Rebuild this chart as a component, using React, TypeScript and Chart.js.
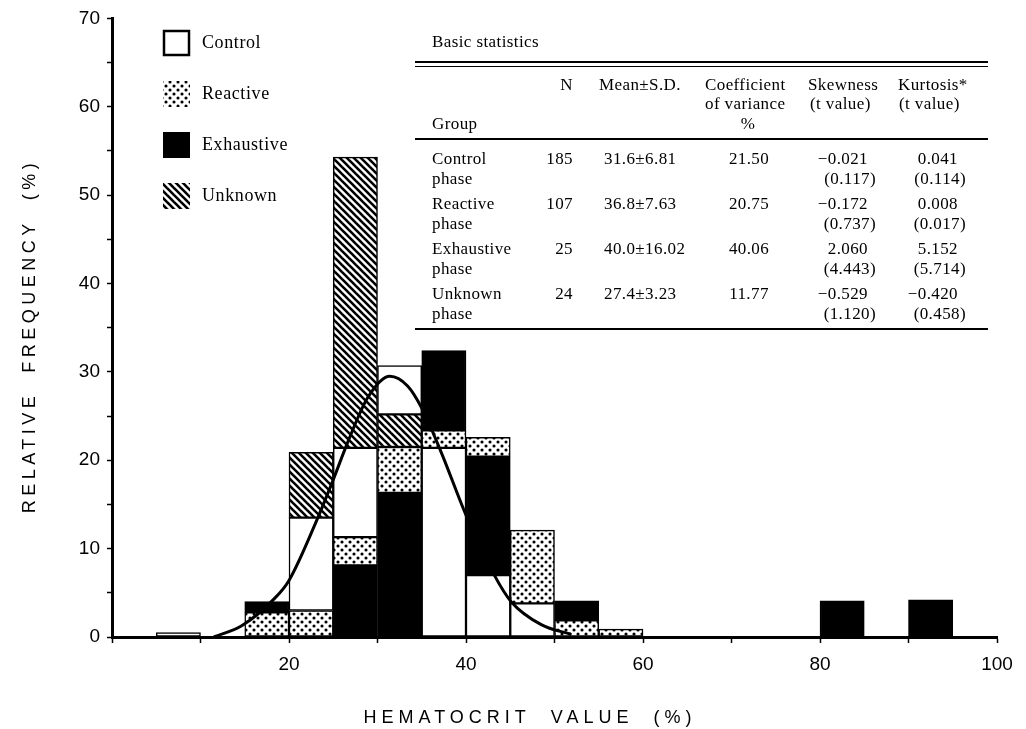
import React, { useEffect, useRef } from "react";
import { Chart, registerables } from "chart.js";

Chart.register(...registerables);

// ---------- DATA ----------
const binWidth = 5;
const binStarts = [5, 10, 15, 20, 25, 30, 35, 40, 45, 50, 55, 60, 65, 70, 75, 80, 85, 90, 95];
// relative frequency (%) per hematocrit bin
const controlFreq = [0.5, 0, 0, 13.5, 21.4, 30.7, 21.4, 7.0, 3.8, 0, 0, 0, 0, 0, 0, 0, 0, 0, 0];
const reactiveFreq = [0, 0, 2.8, 3.0, 11.3, 21.5, 23.4, 22.6, 12.1, 1.9, 0.9, 0, 0, 0, 0, 0, 0, 0, 0];
const exhaustiveFreq = [0, 0, 4.0, 0, 8.1, 16.3, 32.4, 20.4, 0, 4.1, 0, 0, 0, 0, 0, 4.1, 0, 4.2, 0];
const unknownFreq = [0, 0, 0, 20.9, 54.3, 25.2, 0, 0, 0, 0, 0, 0, 0, 0, 0, 0, 0, 0, 0];
const groupLabels = ["Control", "Reactive", "Exhaustive", "Unknown"];

// fitted curve
const curveX = [11.5, 14.7, 18.4, 20.0, 23.3, 25.0, 26.7, 28.9, 31.4, 33.4, 35.0, 37.2, 40.0, 43.2, 45.1, 48.5, 51.9];
const curveY = [0, 1.3, 4.4, 6.4, 13.6, 17.8, 22.2, 27.1, 29.5, 28.4, 25.9, 20.9, 13.8, 7.0, 4.0, 1.4, 0.3];

const xTicks = [20, 40, 60, 80, 100];
const yTicks = [0, 10, 20, 30, 40, 50, 60, 70];
const xTitle = "HEMATOCRIT  VALUE  (%)";
const yTitle = "RELATIVE  FREQUENCY  (%)";

// table
const tableTitle = "Basic statistics";
const tableGroups = ["Control", "Reactive", "Exhaustive", "Unknown"];
const tableN = [185, 107, 25, 24];
const tableMean = [31.6, 36.8, 40.0, 27.4];
const tableSD = [6.81, 7.63, 16.02, 3.23];
const tableCV = [21.5, 20.75, 40.06, 11.77];
const tableSkew = [-0.021, -0.172, 2.06, -0.529];
const tableSkewT = [0.117, 0.737, 4.443, 1.12];
const tableKurt = [0.041, 0.008, 5.152, -0.42];
const tableKurtT = [0.114, 0.017, 5.714, 0.458];

// ---------- helpers ----------
const fmt = (v: number, d: number) => (v < 0 ? "\u2212" : "") + Math.abs(v).toFixed(d);

function makeDots(): CanvasPattern {
  const P = 8;
  const c = document.createElement("canvas");
  c.width = P;
  c.height = P;
  const g = c.getContext("2d")!;
  g.fillStyle = "#fff";
  g.fillRect(0, 0, P, P);
  g.fillStyle = "#000";
  [[2, 2], [6, 6]].forEach(([x, y]) => {
    g.beginPath();
    g.arc(x, y, 1.55, 0, Math.PI * 2);
    g.fill();
  });
  return g.createPattern(c, "repeat")!;
}

function makeHatch(): CanvasPattern {
  const P = 7;
  const c = document.createElement("canvas");
  c.width = P;
  c.height = P;
  const g = c.getContext("2d")!;
  g.fillStyle = "#fff";
  g.fillRect(0, 0, P, P);
  g.strokeStyle = "#000";
  g.lineWidth = 2.6;
  [-P, 0, P].forEach((k) => {
    g.beginPath();
    g.moveTo(k - 1, -1);
    g.lineTo(k + P + 1, P + 1);
    g.stroke();
  });
  return g.createPattern(c, "repeat")!;
}

const allGroups = [controlFreq, reactiveFreq, exhaustiveFreq, unknownFreq];

// visible segment of each group's bar (overlaid histograms, shorter bars in front)
function segments(gi: number) {
  const out: { x: number; y: [number, number] }[] = [];
  binStarts.forEach((b, i) => {
    const v = allGroups[gi][i];
    if (!v) return;
    let lo = 0;
    allGroups.forEach((arr, gj) => {
      const w = arr[i];
      if (gj !== gi && w < v && w > lo) lo = w;
    });
    out.push({ x: b + binWidth / 2, y: [lo, v] });
  });
  return out;
}

const serif = '"Liberation Serif", "Times New Roman", serif';
const sans = '"Liberation Sans", Arial, sans-serif';

function Txt(props: { x: number; y: number; align?: "left" | "right" | "center"; children: React.ReactNode }) {
  const { x, y, align = "left", children } = props;
  const style: React.CSSProperties = {
    position: "absolute",
    top: y,
    whiteSpace: "nowrap",
    lineHeight: "1",
    transform: align === "center" ? "translate(-50%, -50%)" : "translateY(-50%)",
  };
  if (align === "right") style.right = 1026 - x;
  else style.left = x;
  return <div style={style}>{children}</div>;
}

function Rule({ y, w = 1.5 }: { y: number; w?: number }) {
  return <div style={{ position: "absolute", left: 415, width: 573, top: y - w / 2, height: w, background: "#000" }} />;
}

export default function App() {
  const ref = useRef<HTMLCanvasElement>(null);

  useEffect(() => {
    const dots = makeDots();
    const hatch = makeHatch();
    const fills: (string | CanvasPattern)[] = ["#fff", dots, "#000", hatch];

    const barSets = groupLabels.map((label, gi) => ({
      type: "bar" as const,
      label,
      data: segments(gi),
      backgroundColor: fills[gi],
      borderColor: "#000",
      borderWidth: 1.5,
      borderSkipped: false,
      grouped: false,
      barPercentage: 1,
      categoryPercentage: 1,
      order: 1,
    }));

    const legendPlugin = {
      id: "customLegendTitles",
      afterDraw(chart: any) {
        const ctx: CanvasRenderingContext2D = chart.ctx;
        ctx.save();
        // legend
        groupLabels.forEach((label, i) => {
          const yc = 43 + i * 51;
          const x = 163;
          const w = 27;
          const h = 26;
          ctx.fillStyle = fills[i] as any;
          ctx.fillRect(x, yc - h / 2, w, h);
          if (i === 0) {
            ctx.strokeStyle = "#000";
            ctx.lineWidth = 2.5;
            ctx.strokeRect(x + 1, yc - h / 2 + 1, w - 2, h - 2);
          }
          ctx.fillStyle = "#000";
          ctx.font = `18px ${serif}`;
          (ctx as any).letterSpacing = "0.6px";
          ctx.textAlign = "left";
          ctx.textBaseline = "middle";
          ctx.fillText(label, 202, yc);
        });
        // axis titles
        ctx.font = `18px ${sans}`;
        (ctx as any).letterSpacing = "5px";
        ctx.textAlign = "center";
        ctx.textBaseline = "middle";
        ctx.fillText(xTitle, 530, 718);
        ctx.translate(30, 336);
        ctx.rotate(-Math.PI / 2);
        (ctx as any).letterSpacing = "4.5px";
        ctx.fillText(yTitle, 0, 0);
        ctx.restore();
      },
    };

    const tickFont = { family: sans, size: 19 };
    const chart = new Chart(ref.current!, {
      type: "bar",
      data: {
        datasets: [
          ...barSets,
          {
            type: "line" as const,
            label: "fit",
            data: curveX.map((x, i) => ({ x, y: curveY[i] })),
            borderColor: "#000",
            borderWidth: 3,
            pointRadius: 0,
            cubicInterpolationMode: "monotone",
            fill: false,
            order: 0,
          },
        ] as any,
      },
      options: {
        responsive: false,
        animation: false,
        layout: { padding: { left: 0, top: 18, right: 29, bottom: 0 } },
        plugins: { legend: { display: false }, tooltip: { enabled: false } },
        scales: {
          x: {
            type: "linear",
            min: 0,
            max: 100,
            offset: false,
            ticks: {
              stepSize: 10,
              autoSkip: false,
              maxRotation: 0,
              color: "#000",
              font: tickFont,
              padding: 10,
              callback: (v: any) => (xTicks.includes(Number(v)) ? String(v) : ""),
            },
            grid: { offset: false, drawOnChartArea: false, tickLength: 6, tickWidth: 1.5, tickColor: "#000" },
            border: { color: "#000", width: 3 },
            afterFit: (s: any) => {
              s.height = 92;
            },
          },
          y: {
            type: "linear",
            min: 0,
            max: 70,
            ticks: {
              stepSize: 5,
              autoSkip: false,
              color: "#000",
              font: tickFont,
              padding: 7,
              callback: (v: any) => (yTicks.includes(Number(v)) ? String(v) : ""),
            },
            grid: { drawOnChartArea: false, tickLength: 5, tickWidth: 1.5, tickColor: "#000" },
            border: { color: "#000", width: 3 },
            afterFit: (s: any) => {
              s.width = 112;
            },
          },
        },
      } as any,
      plugins: [legendPlugin],
    });
    return () => chart.destroy();
  }, []);

  const rowY = (i: number) => 158 + i * 45;

  return (
    <div style={{ position: "absolute", left: 0, top: 0, width: 1026, height: 729, background: "#fff", overflow: "hidden" }}>
      <canvas ref={ref} width={1026} height={729} style={{ position: "absolute", left: 0, top: 0 }} />
      <div style={{ position: "absolute", left: 0, top: 0, width: 1026, height: 729, fontFamily: serif, fontSize: 17, letterSpacing: "0.4px", color: "#000" }}>
        <Txt x={432} y={41}>{tableTitle}</Txt>
        <Rule y={62} w={1.2} />
        <Rule y={66.5} w={1.5} />
        <Txt x={573} y={84} align="right">N</Txt>
        <Txt x={599} y={84}>Mean±S.D.</Txt>
        <Txt x={705} y={84}>Coefficient</Txt>
        <Txt x={705} y={103}>of variance</Txt>
        <Txt x={748} y={123} align="center">%</Txt>
        <Txt x={808} y={84}>Skewness</Txt>
        <Txt x={810} y={103}>(t value)</Txt>
        <Txt x={898} y={84}>Kurtosis*</Txt>
        <Txt x={899} y={103}>(t value)</Txt>
        <Txt x={432} y={123}>Group</Txt>
        <Rule y={139} w={1.5} />
        {tableGroups.map((g, i) => (
          <React.Fragment key={g}>
            <Txt x={432} y={rowY(i)}>{g}</Txt>
            <Txt x={432} y={rowY(i) + 20}>phase</Txt>
            <Txt x={573} y={rowY(i)} align="right">{tableN[i]}</Txt>
            <Txt x={604} y={rowY(i)}>{tableMean[i].toFixed(1)}±{tableSD[i].toFixed(2)}</Txt>
            <Txt x={749} y={rowY(i)} align="center">{tableCV[i].toFixed(2)}</Txt>
            <Txt x={868} y={rowY(i)} align="right">{fmt(tableSkew[i], 3)}</Txt>
            <Txt x={876} y={rowY(i) + 20} align="right">({tableSkewT[i].toFixed(3)})</Txt>
            <Txt x={958} y={rowY(i)} align="right">{fmt(tableKurt[i], 3)}</Txt>
            <Txt x={966} y={rowY(i) + 20} align="right">({tableKurtT[i].toFixed(3)})</Txt>
          </React.Fragment>
        ))}
        <Rule y={329} w={1.5} />
      </div>
    </div>
  );
}
